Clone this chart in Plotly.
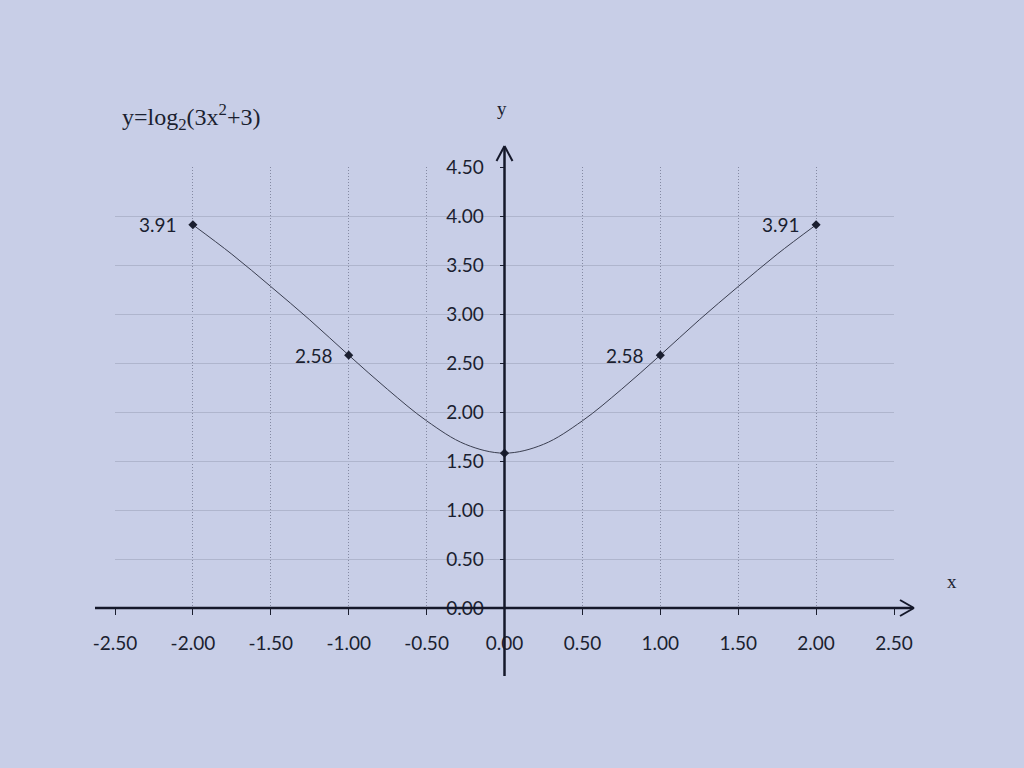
import plotly.graph_objects as go

# ---- data ----
curve_x = [-2.0, -1.75, -1.5, -1.25, -1.0, -0.75, -0.5, -0.25, 0.0,
           0.25, 0.5, 0.75, 1.0, 1.25, 1.5, 1.75, 2.0]
curve_y = [3.91, 3.61, 3.28, 2.94, 2.58, 2.23, 1.91, 1.67, 1.58,
           1.67, 1.91, 2.23, 2.58, 2.94, 3.28, 3.61, 3.91]
point_x = [-2.0, -1.0, 0.0, 1.0, 2.0]
point_y = [3.91, 2.58, 1.58, 2.58, 3.91]
label_x = [-2.0, -1.0, 1.0, 2.0]
label_y = [3.91, 2.58, 2.58, 3.91]
label_text = ["3.91", "2.58", "2.58", "3.91"]
x_ticks = [-2.5, -2.0, -1.5, -1.0, -0.5, 0.0, 0.5, 1.0, 1.5, 2.0, 2.5]
y_ticks = [0.0, 0.5, 1.0, 1.5, 2.0, 2.5, 3.0, 3.5, 4.0, 4.5]
title_text = "y=log<sub>2</sub>(3x<sup>2</sup>+3)"

W, H = 1024, 768
L, R, T, B = 115, 130, 167, 160
PW, PH = W - L - R, H - T - B
X0 = L + PW / 2          # pixel column of x = 0
Y0 = H - B               # pixel row of y = 0
BG = "#c8cee7"
INK = "#1b1f30"
AX = "#15182a"
SANS = "Lato, Open Sans, sans-serif"


def px(x):
    return (x - L) / PW


def py(y):
    return (H - B - y) / PH


fig = go.Figure()
fig.add_trace(go.Scatter(x=curve_x, y=curve_y, mode="lines",
                         line=dict(color="#3a3e50", width=1, shape="spline", smoothing=1.0),
                         hoverinfo="skip", showlegend=False))
fig.add_trace(go.Scatter(x=point_x, y=point_y, mode="markers",
                         marker=dict(symbol="diamond", size=7, color=INK),
                         showlegend=False))

axis_font = dict(family=SANS, size=19, color=INK)
fig.update_xaxes(range=[-2.5, 2.5], tickvals=x_ticks, ticktext=[f"{v:.2f}" for v in x_ticks],
                 tickfont=axis_font, showgrid=True, gridcolor="#858aa3", griddash="1px,2px",
                 gridwidth=1, zeroline=False, showline=False, ticks="outside", ticklen=6,
                 tickcolor=INK, ticklabelstandoff=12, fixedrange=True)
fig.update_yaxes(range=[0, 4.5], tickvals=y_ticks, ticktext=[f"{v:.2f}" for v in y_ticks],
                 tickfont=axis_font, showgrid=True, gridcolor="#afb5cd", gridwidth=1,
                 zeroline=False, showline=False, ticks="outside", ticklen=5, tickcolor=INK,
                 anchor="free", position=0.5, ticklabelstandoff=12, fixedrange=True)

shapes = []
line_style = dict(color=AX, width=2.5)
head = dict(color=AX, width=2)
# x axis with arrow
shapes.append(dict(type="line", xref="paper", yref="paper", x0=px(95), x1=px(913),
                   y0=py(Y0), y1=py(Y0), line=line_style))
shapes.append(dict(type="line", xref="paper", yref="paper", x0=px(900), x1=px(914),
                   y0=py(Y0 - 8), y1=py(Y0), line=head))
shapes.append(dict(type="line", xref="paper", yref="paper", x0=px(900), x1=px(914),
                   y0=py(Y0 + 8), y1=py(Y0), line=head))
# y axis with arrow
shapes.append(dict(type="line", xref="paper", yref="paper", x0=px(X0), x1=px(X0),
                   y0=py(676), y1=py(147), line=line_style))
shapes.append(dict(type="line", xref="paper", yref="paper", x0=px(X0 - 8), x1=px(X0),
                   y0=py(161), y1=py(146), line=head))
shapes.append(dict(type="line", xref="paper", yref="paper", x0=px(X0 + 8), x1=px(X0),
                   y0=py(161), y1=py(146), line=head))

serif = dict(family="Liberation Serif, DejaVu Serif, serif", color=INK)
annotations = [
    dict(text=title_text, xref="paper", yref="paper", x=px(120), y=py(117), xanchor="left",
         yanchor="middle", showarrow=False, font=dict(size=24, **serif)),
    dict(text="y", xref="paper", yref="paper", x=px(X0 - 3), y=py(108), xanchor="center",
         yanchor="middle", showarrow=False, font=dict(size=19, **serif)),
    dict(text="x", xref="paper", yref="paper", x=px(952), y=py(581), xanchor="center",
         yanchor="middle", showarrow=False, font=dict(size=19, **serif)),
]
for lx, ly, lt in zip(label_x, label_y, label_text):
    annotations.append(dict(text=lt, x=lx, y=ly, xref="x", yref="y", xanchor="right",
                            yanchor="middle", xshift=-14, showarrow=False,
                            font=dict(family=SANS, size=19, color=INK)))

fig.update_layout(width=W, height=H, autosize=False,
                  margin=dict(l=L, r=R, t=T, b=B),
                  paper_bgcolor=BG, plot_bgcolor=BG,
                  shapes=shapes, annotations=annotations, showlegend=False)

fig.write_html("out.html", config={"displayModeBar": False},
               post_script="document.body.style.margin='0';document.body.style.overflow='hidden';")
